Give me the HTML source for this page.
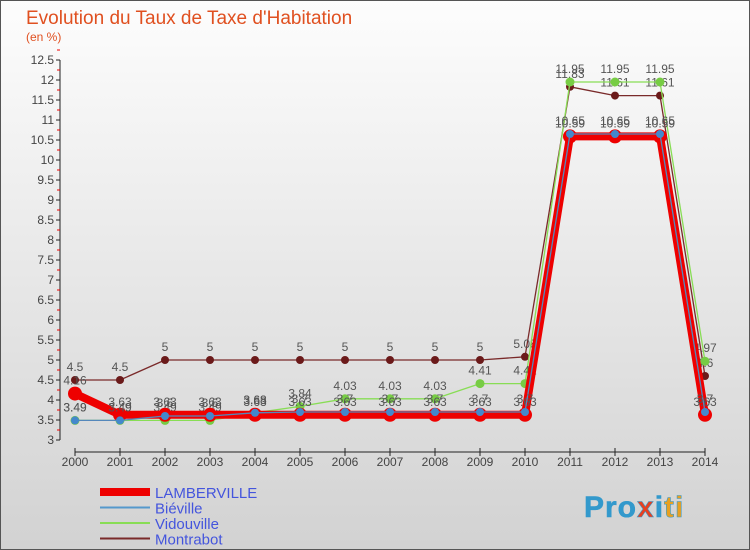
<!DOCTYPE html>
<html><head><meta charset="utf-8"><style>
body{margin:0;width:750px;height:550px;overflow:hidden;font-family:"Liberation Sans",sans-serif}
#bg{position:absolute;left:0;top:0;width:750px;height:550px;background:linear-gradient(#fdfdfd,#d2d2d2);box-sizing:border-box;border:1px solid #555}
</style></head><body>
<div id="bg"></div>
<svg id="c" width="750" height="550" style="position:absolute;left:0;top:0">
<text x="26" y="24" font-size="19" fill="#e05020">Evolution du Taux de Taxe d'Habitation</text>
<text x="26" y="41" font-size="12" fill="#e05020">(en %)</text>
<g id="axes"></g><g id="series"></g><g id="legend"></g>
<text x="584" y="517" font-size="30" font-weight="bold" fill="#e8a020" stroke="#3399cc" stroke-width="0.6" letter-spacing="1"><tspan fill="#3399cc">Pro</tspan><tspan fill="#e84020">x</tspan><tspan fill="#3399cc">i</tspan><tspan fill="#e8a020">ti</tspan></text>
</svg>
<script>
const years=[2000,2001,2002,2003,2004,2005,2006,2007,2008,2009,2010,2011,2012,2013,2014];
const lamberville=[4.16,3.63,3.63,3.63,3.63,3.63,3.63,3.63,3.63,3.63,3.63,10.59,10.59,10.59,3.63];
const bieville=[3.49,3.49,3.6,3.6,3.68,3.7,3.7,3.7,3.7,3.7,3.7,10.65,10.65,10.65,3.7];
const vidouville=[3.49,3.49,3.49,3.49,3.68,3.84,4.03,4.03,4.03,4.41,4.41,11.95,11.95,11.95,4.97];
const montrabot=[4.5,4.5,5,5,5,5,5,5,5,5,5.08,11.83,11.61,11.61,4.6];
const yTicks=[3,3.5,4,4.5,5,5.5,6,6.5,7,7.5,8,8.5,9,9.5,10,10.5,11,11.5,12,12.5];
const NS="http://www.w3.org/2000/svg";
const X=i=>75+i*45, Y=v=>440-(v-3)*40;
function mk(p,t,a){const e=document.createElementNS(NS,t);for(const k in a)e.setAttribute(k,a[k]);p.appendChild(e);return e;}
const ax=document.getElementById('axes');
let l=mk(ax,'line',{x1:60,y1:Y(3),x2:60,y2:Y(12.5),stroke:'#222'});

l=mk(ax,'line',{x1:75,y1:452,x2:705,y2:452,stroke:'#222'});

yTicks.forEach(v=>{mk(ax,'line',{x1:56,y1:Y(v),x2:60,y2:Y(v),stroke:'#222'});
 mk(ax,'line',{x1:57,y1:Y(v)-10,x2:60,y2:Y(v)-10,stroke:'#e00'});
 const t=mk(ax,'text',{x:54,y:Y(v)+4,'font-size':12,fill:'#444','text-anchor':'end'});t.textContent=String(v);
 });
years.forEach((y,i)=>{mk(ax,'line',{x1:X(i),y1:448,x2:X(i),y2:456,stroke:'#222'});
 const t=mk(ax,'text',{x:X(i),y:466,'font-size':12,fill:'#444','text-anchor':'middle'});t.textContent=y;
 });
const S=document.getElementById('series');
function series(name,data,col,w,dot,dotFill){
 const g=mk(S,'g',{});
 mk(g,'polyline',{points:data.map((v,i)=>X(i)+','+Y(v)).join(' '),fill:'none',stroke:col,'stroke-width':w,'stroke-linejoin':'round'});
 data.forEach((v,i)=>{const c=mk(g,'circle',{cx:X(i),cy:Y(v),r:dot,fill:dotFill});
  
  const t=mk(g,'text',{x:X(i),y:Y(v)-9,'font-size':12,fill:'#555','text-anchor':'middle'});t.textContent=String(v);
  });
}
series('montrabot',montrabot,'#7a2a2a',1.3,4,'#6b1a1a');
series('vidouville',vidouville,'#88dd55',1.3,4.5,'#77cc44');
series('lamberville',lamberville,'#ee0000',8,7,'#ee0000');
series('bieville',bieville,'#5588bb',1.3,4,'#4488cc');
const L=document.getElementById('legend');
[['LAMBERVILLE','#ee0000',8],['Biéville','#5599cc',2],['Vidouville','#88dd55',2],['Montrabot','#7a2a2a',2]].forEach((d,i)=>{
 const g=mk(L,'g',{});
 mk(g,'line',{x1:100,y1:492+i*15.5,x2:150,y2:492+i*15.5,stroke:d[1],'stroke-width':d[2]});
 const t=mk(g,'text',{x:155,y:498+i*15.5,'font-size':15,fill:'#4455dd'});t.textContent=d[0];});
</script>
</body></html>
